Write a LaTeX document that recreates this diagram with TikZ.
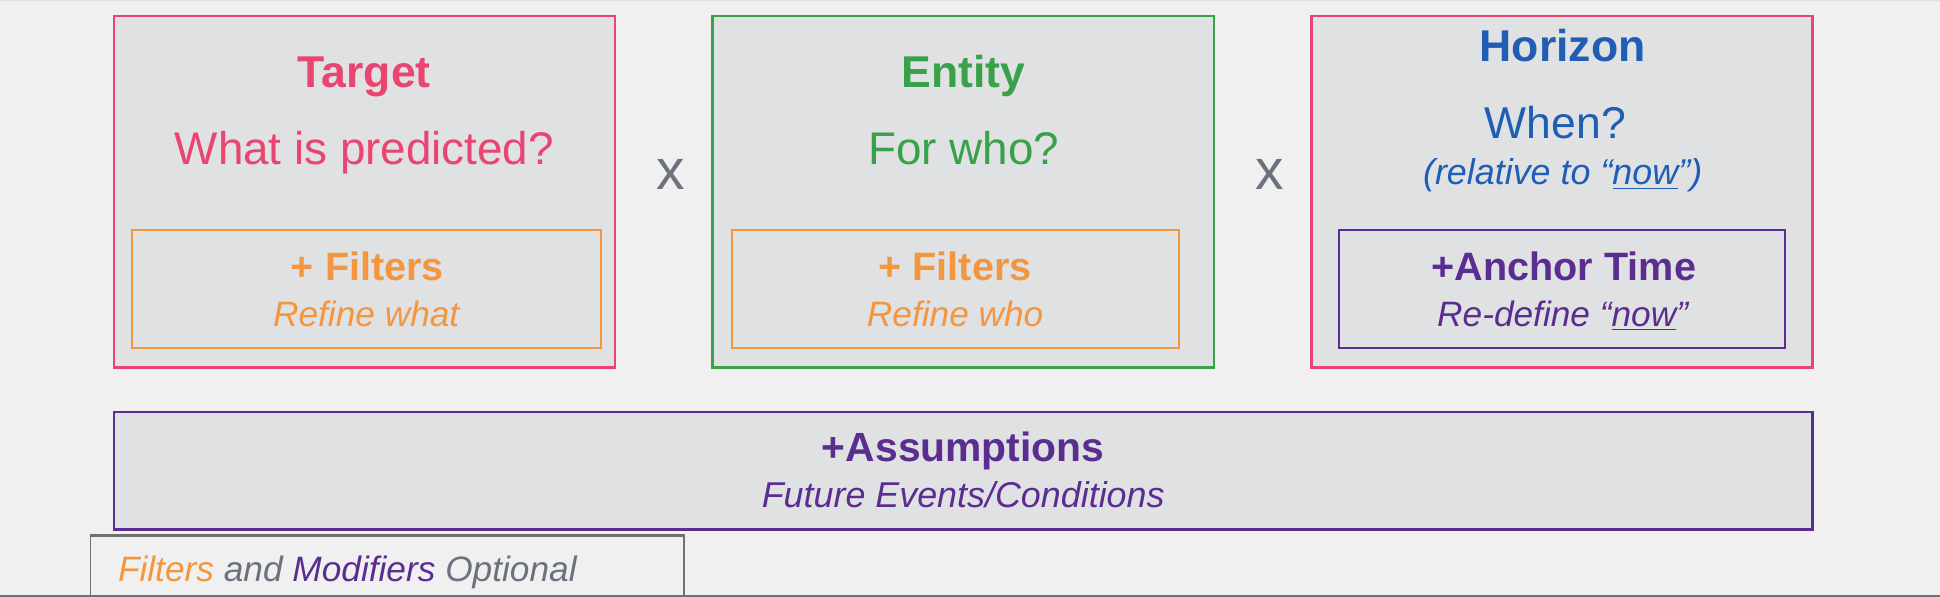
\documentclass[tikz,border=0pt]{standalone}
\usepackage{fontspec}
\setmainfont{Liberation Sans}
\definecolor{bgc}{HTML}{F0F0F0}
\definecolor{boxfill}{HTML}{E0E1E3}
\definecolor{pinkc}{HTML}{EA4470}
\definecolor{greenc}{HTML}{3AA14B}
\definecolor{orangec}{HTML}{F4963E}
\definecolor{bluec}{HTML}{1F5EB4}
\definecolor{purplec}{HTML}{5C2D91}
\definecolor{grayx}{HTML}{6B727D}
\definecolor{legline}{HTML}{707070}
\newcommand{\fs}[1]{\fontsize{#1}{#1}\selectfont}
\begin{document}
\begin{tikzpicture}[x=0.5pt,y=-0.5pt,
  outerbox/.style={draw, line width=1pt, fill=boxfill, inner sep=0pt, minimum width=202.5pt, minimum height=142pt},
  innerbox/.style={draw, line width=0.8pt, inner sep=0pt, minimum height=47.5pt},
  txt/.style={inner sep=0pt, anchor=base},
  title/.style={txt, font=\fs{18}\bfseries},
  question/.style={txt, font=\fs{18.5}},
  subtitle/.style={txt, font=\fs{16}\bfseries},
  subtext/.style={txt, font=\fs{14.25}\itshape},
  times/.style={txt, font=\fs{23}, text=grayx}]
\fill[bgc] (0,0) rectangle (1568,482);
\useasboundingbox (0,0) rectangle (1568,482);
\draw[black!12, line width=0.5pt] (0,0.5) -- (1568,0.5);
% boxes
\node[outerbox, draw=pinkc] (target) at (294.5,155) {};
\node[outerbox, draw=greenc] (entity) at (778.5,155) {};
\node[outerbox, draw=pinkc] (horizon) at (1262.5,155) {};
\node[innerbox, draw=orangec, minimum width=189.5pt] (tfilt) at (296.5,233.5) {};
\node[innerbox, draw=orangec, minimum width=180.5pt] (efilt) at (772.5,233.5) {};
\node[innerbox, draw=purplec, minimum width=180.5pt] (anchor) at (1262.5,233.5) {};
\node[draw=purplec, line width=1pt, fill=boxfill, inner sep=0pt, minimum width=686.5pt, minimum height=47.5pt] (assump) at (778.5,380.5) {};
% texts target
\node[title, text=pinkc] (ttitle) at (294.5,70.6) {Target};
\node[question, text=pinkc] (tq) at (294.5,132.6) {What is predicted?};
\node[subtitle, text=orangec] (tft) at (297,227) {+ Filters};
\node[subtext, text=orangec] (tfs) at (296,264) {Refine what};
% entity
\node[title, text=greenc] (etitle) at (778.5,70.6) {Entity};
\node[question, text=greenc] (eq) at (779,132.6) {For who?};
\node[subtitle, text=orangec] (eft) at (772,227) {+ Filters};
\node[subtext, text=orangec] (efs) at (772,264) {Refine who};
% horizon
\node[title, text=bluec] (htitle) at (1263,49.8) {Horizon};
\node[question, text=bluec, font=\fs{18}] (hq) at (1257,111.8) {When?};
\node[txt, text=bluec, font=\fs{14.5}\itshape] (hrel) at (1263,149.5) {(relative to “\underline{now}”)};
\node[subtitle, text=purplec] (aft) at (1264,227) {+Anchor Time};
\node[subtext, text=purplec] (afs) at (1263,263.5) {Re-define “\underline{now}”};
% times
\node[times] (x1) at (542,153) {x};
\node[times] (x2) at (1026,153) {x};
% assumptions
\node[subtitle, text=purplec, font=\fs{16.5}\bfseries] (ast) at (778.5,373) {+Assumptions};
\node[subtext, text=purplec, font=\fs{14.5}\itshape] (ass) at (778.5,410) {Future Events/Conditions};
% legend
\draw[legline, line width=0.6pt] (73,484) -- (73,432.5) -- (553,432.5) -- (553,484);
\draw[legline, line width=1.2pt] (73,432.5) -- (553,432.5);
\node[txt, anchor=base west, font=\fs{14.25}\itshape] (legend) at (95,470)
  {\textcolor{orangec}{Filters} \textcolor{grayx}{and} \textcolor{purplec}{Modifiers} \textcolor{grayx}{Optional}};
\draw[legline, line width=0.8pt] (0,481.6) -- (1568,481.6);
\end{tikzpicture}
\end{document}
